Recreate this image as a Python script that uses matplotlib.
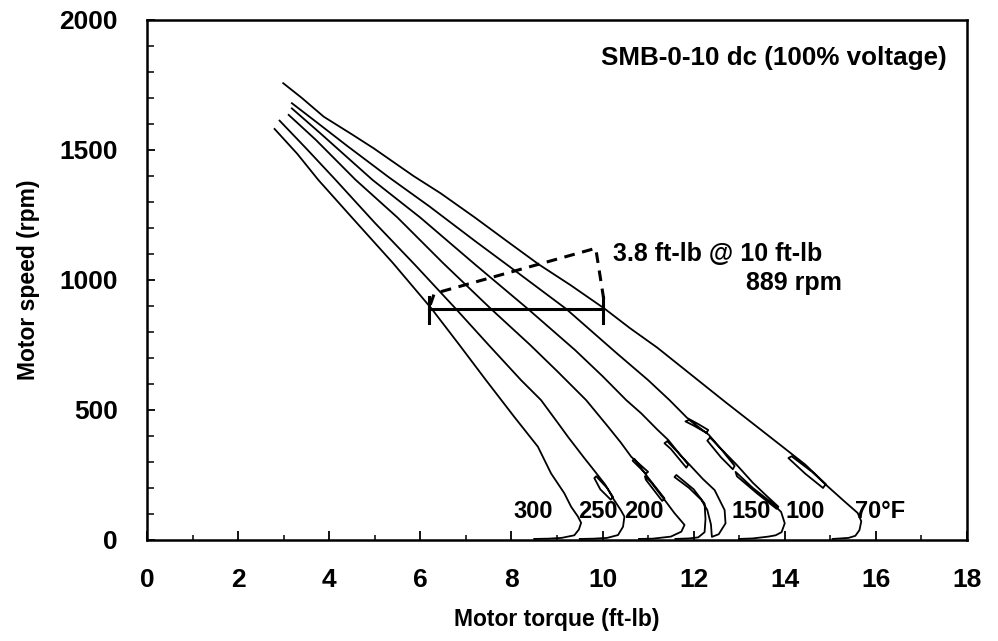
import matplotlib
matplotlib.use("Agg")
import matplotlib.pyplot as plt
from matplotlib.ticker import MultipleLocator

plt.rcParams['font.family'] = ['Liberation Sans', 'DejaVu Sans']
plt.rcParams['font.weight'] = 'bold'
plt.rcParams['axes.labelweight'] = 'bold'

# speed-torque traces, one per motor temperature (deg F)
t70 = [2.99, 3.4, 3.88, 4.5, 4.98, 5.85, 6.45, 7.2, 7.92, 8.6, 9.3, 10.05, 10.6, 11.2, 12.0, 12.7, 13.3,
       14.0, 14.45, 14.9, 14.84, 14.45, 14.08, 14.15, 14.6, 14.95, 15.3, 15.6, 15.68, 15.64, 15.55, 15.4, 15.05]
s70 = [1757, 1700, 1628, 1560, 1506, 1400, 1333, 1240, 1147, 1060, 980, 889, 815, 740, 628, 530, 448,
       352, 290, 215, 200, 255, 315, 322, 262, 205, 150, 104, 72, 38, 16, 8, 4]

t100 = [3.18, 3.7, 4.4, 5.31, 6.2, 7.2, 8.2, 9.2, 10.3, 11.0, 11.47, 11.86, 12.1, 12.32, 12.28, 12.0, 11.82,
        11.9, 12.33, 12.6, 12.9, 12.86, 12.6, 12.3, 12.36, 12.94, 13.3, 13.6, 13.86, 13.82, 13.4, 12.95,
        12.92, 13.3, 13.7, 13.92, 14.0, 13.93, 13.8, 13.64, 13.3, 13.0]
s100 = [1680, 1610, 1515, 1395, 1283, 1150, 1020, 889, 720, 615, 538, 469, 446, 423, 412, 440, 456,
        462, 405, 350, 285, 272, 318, 382, 394, 290, 220, 170, 128, 120, 178, 245,
        262, 200, 145, 108, 64, 30, 18, 13, 6, 4]

t150 = [3.18, 3.8, 4.95, 6.0, 7.2, 8.36, 9.4, 10.0, 10.52, 10.85, 11.2, 11.44, 11.88, 11.84, 11.5, 11.36,
        11.42, 11.95, 12.2, 12.46, 12.68, 12.7, 12.55, 12.4, 12.38, 12.3, 12.17, 11.9, 11.58, 11.62, 12.0,
        12.24, 12.26, 12.24, 12.1, 11.9, 11.6]
s150 = [1660, 1565, 1385, 1240, 1060, 889, 730, 630, 538, 487, 425, 385, 290, 278, 350, 372,
        380, 282, 235, 192, 115, 64, 22, 12, 60, 115, 154, 200, 242, 250, 195,
        140, 80, 30, 10, 6, 4]

t200 = [3.11, 3.7, 4.58, 5.5, 6.5, 7.55, 8.4, 9.0, 9.64, 10.12, 10.4, 10.63, 11.0, 10.95, 10.66, 10.7,
        11.0, 11.36, 11.31, 10.95, 10.93, 11.05, 11.38, 11.58, 11.8, 11.73, 11.5, 11.1, 10.8]
s200 = [1635, 1540, 1385, 1240, 1065, 889, 752, 650, 538, 436, 375, 320, 262, 255, 305, 312,
        240, 160, 150, 232, 245, 225, 150, 103, 58, 32, 13, 5, 4]

t250 = [2.91, 3.5, 4.14, 5.0, 5.9, 6.78, 7.5, 8.21, 8.65, 9.02, 9.24, 9.6, 9.75, 10.05, 10.23, 10.18,
        9.95, 9.82, 9.86, 10.1, 10.25, 10.4, 10.48, 10.45, 10.34, 10.1, 9.8, 9.5]
s250 = [1613, 1505, 1385, 1220, 1055, 889, 750, 615, 538, 450, 397, 315, 282, 215, 165, 155,
        195, 238, 245, 200, 155, 115, 90, 51, 19, 8, 5, 4]

t300 = [2.80, 3.3, 3.76, 4.5, 5.4, 6.25, 6.85, 7.44, 8.06, 8.58, 8.87, 9.16, 9.31, 9.46, 9.53, 9.48,
        9.38, 9.1, 8.8, 8.5]
s300 = [1581, 1485, 1385, 1240, 1065, 889, 752, 615, 474, 359, 256, 180, 128, 90, 66, 40,
        18, 8, 5, 4]

curve_labels = ['300', '250', '200', '150', '100']
curve_label_x = [8.47, 9.9, 10.9, 13.27, 14.44]
label_y = 108

# torque drop at 889 rpm between 70 F and 300 F
bar_torque = [6.2, 10.0]
bar_speed = 889
dash_torque = [6.22, 6.3, 6.45, 9.85, 10.05]
dash_speed = [905, 945, 955, 1122, 900]

fig = plt.figure(figsize=(9.98, 6.41), dpi=100)
ax = fig.add_axes([0.1473, 0.1576, 0.8216, 0.8112])

for t, s in [(t70, s70), (t100, s100), (t150, s150), (t200, s200), (t250, s250), (t300, s300)]:
    ax.plot(t, s, color='black', lw=1.3, solid_joinstyle='round')

ax.plot(bar_torque, [bar_speed, bar_speed], color='black', lw=2.2)
for bx in bar_torque:
    ax.plot([bx, bx], [bar_speed - 55, bar_speed + 45], color='black', lw=2.2)
ax.plot(dash_torque, dash_speed, color='black', lw=2.2, ls=(0, (3.5, 2.5)))

ax.text(10.23, 1100, '3.8 ft-lb @ 10 ft-lb', fontsize=18, ha='left', va='center')
ax.text(15.25, 990, '889 rpm', fontsize=18, ha='right', va='center')
ax.text(17.55, 1854, 'SMB-0-10 dc (100% voltage)', fontsize=18.7, ha='right', va='center')

for lab, x in zip(curve_labels, curve_label_x):
    ax.text(x, label_y, lab, fontsize=17, ha='center', va='center')
ax.text(15.55, label_y, '70°F', fontsize=17, ha='left', va='center')

ax.set_xlim(0, 18)
ax.set_ylim(0, 2000)
ax.xaxis.set_major_locator(MultipleLocator(2))
ax.xaxis.set_minor_locator(MultipleLocator(1))
ax.yaxis.set_major_locator(MultipleLocator(500))
ax.yaxis.set_minor_locator(MultipleLocator(100))
ax.tick_params(axis='x', which='major', direction='in', length=6.5, width=1.3, pad=20, labelsize=19)
ax.tick_params(axis='x', which='minor', direction='in', length=3.6, width=1.1)
ax.tick_params(axis='y', which='major', direction='in', length=5.5, width=1.3, pad=21, labelsize=19)
ax.tick_params(axis='y', which='minor', direction='in', length=5, width=1.1)
for sp in ax.spines.values():
    sp.set_linewidth(1.8)

ax.set_xlabel('Motor torque (ft-lb)', fontsize=16.5, labelpad=12)
ax.set_ylabel('Motor speed (rpm)', fontsize=16.5, labelpad=14)

fig.savefig('out.png', dpi=100)
